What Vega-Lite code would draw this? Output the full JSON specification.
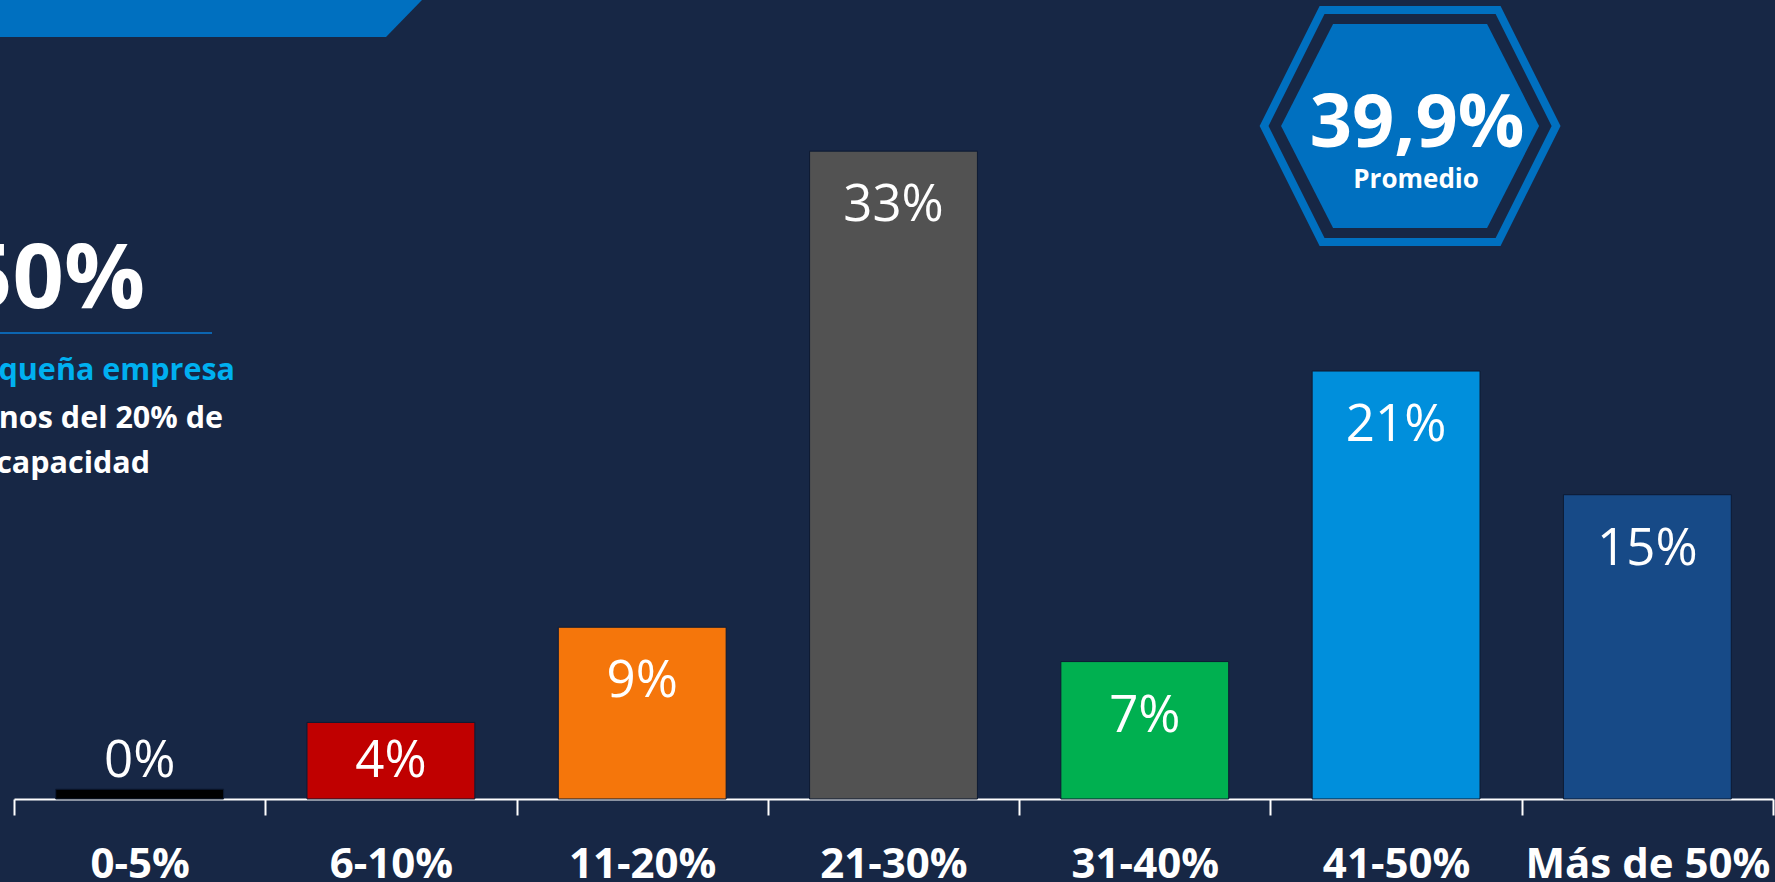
{
  "$schema": "https://vega.github.io/schema/vega-lite/v6.json",
  "width": 1759,
  "height": 799,
  "autosize": {"type": "none"},
  "padding": {"left": 14, "top": 0, "right": 2, "bottom": 83},
  "background": "#172745",
  "config": {"view": {"stroke": null}, "font": "Open Sans"},
  "datasets": {
    "bars": [
      {"cat": "0-5%", "value": 0.5, "label": "0%"},
      {"cat": "6-10%", "value": 3.9, "label": "4%"},
      {"cat": "11-20%", "value": 8.75, "label": "9%"},
      {"cat": "21-30%", "value": 33.0, "label": "33%"},
      {"cat": "31-40%", "value": 7.0, "label": "7%"},
      {"cat": "41-50%", "value": 21.8, "label": "21%"},
      {"cat": "Más de 50%", "value": 15.5, "label": "15%"}
    ],
    "avg": [{"cat": "41-50%", "label": "39,9%", "sub": "Promedio"}],
    "note": [
      {"big": "50%", "l1": "queña empresa", "l2": "nos del 20% de", "l3": "capacidad"}
    ]
  },
  "layer": [
    {
      "data": {"values": [{"k": 1}]},
      "mark": {"type": "point", "shape": "M0,0L422,0L386,37L0,37Z", "size": 4, "filled": true, "color": "#0070C0", "opacity": 1, "strokeWidth": 0},
      "encoding": {"x": {"value": -14}, "y": {"value": 0}}
    },
    {
      "data": {"name": "bars"},
      "mark": {"type": "bar", "width": {"band": 0.668}, "stroke": "#0d1a33", "strokeWidth": 1},
      "encoding": {
        "x": {
          "field": "cat", "type": "nominal", "sort": null,
          "scale": {"domain": ["0-5%", "6-10%", "11-20%", "21-30%", "31-40%", "41-50%", "Más de 50%"], "paddingInner": 0, "paddingOuter": 0},
          "axis": {
            "title": null, "domainColor": "white", "domainWidth": 2,
            "tickColor": "white", "tickWidth": 2, "tickSize": 16, "tickBand": "extent",
            "labelColor": "white", "labelFont": "Open Sans", "labelFontSize": 42, "labelFontWeight": "bold",
            "labelPadding": 62, "labelBaseline": "alphabetic", "labelAngle": 0, "labelLimit": 0, "grid": false
          }
        },
        "y": {"field": "value", "type": "quantitative", "scale": {"domain": [0, 40.7], "nice": false}, "axis": null},
        "color": {
          "field": "cat", "type": "nominal", "legend": null,
          "scale": {
            "domain": ["0-5%", "6-10%", "11-20%", "21-30%", "31-40%", "41-50%", "Más de 50%"],
            "range": ["#000000", "#C00000", "#F5760B", "#525252", "#00B050", "#008FDC", "#174A87"]
          }
        }
      }
    },
    {
      "data": {"name": "bars"},
      "transform": [{"filter": "datum.value >= 5"}],
      "mark": {"type": "text", "baseline": "alphabetic", "dy": 70, "fontSize": 51, "color": "white", "font": "Open Sans"},
      "encoding": {
        "x": {"field": "cat", "type": "nominal", "sort": null},
        "y": {"field": "value", "type": "quantitative"},
        "text": {"field": "label"}
      }
    },
    {
      "data": {"name": "bars"},
      "transform": [{"filter": "datum.value < 5"}],
      "mark": {"type": "text", "baseline": "alphabetic", "fontSize": 51, "color": "white", "font": "Open Sans"},
      "encoding": {
        "x": {"field": "cat", "type": "nominal", "sort": null},
        "y": {"datum": 1.12, "type": "quantitative"},
        "text": {"field": "label"}
      }
    },
    {
      "data": {"name": "avg"},
      "mark": {"type": "point", "shape": "M-146,0L-88,-116L88,-116L146,0L88,116L-88,116Z", "size": 4, "filled": false, "stroke": "#0070C0", "strokeWidth": 8, "opacity": 1, "strokeJoin": "miter", "xOffset": 14},
      "encoding": {"x": {"field": "cat", "type": "nominal"}, "y": {"value": 126}}
    },
    {
      "data": {"name": "avg"},
      "mark": {"type": "point", "shape": "M-129,0L-77,-102L77,-102L129,0L77,102L-77,102Z", "size": 4, "filled": true, "fill": "#0070C0", "strokeWidth": 0, "opacity": 1, "xOffset": 14},
      "encoding": {"x": {"field": "cat", "type": "nominal"}, "y": {"value": 126}}
    },
    {
      "data": {"name": "avg"},
      "mark": {"type": "text", "baseline": "alphabetic", "fontSize": 74, "fontWeight": "bold", "color": "white", "dx": 21, "font": "Open Sans"},
      "encoding": {"x": {"field": "cat", "type": "nominal"}, "y": {"value": 147}, "text": {"field": "label"}}
    },
    {
      "data": {"name": "avg"},
      "mark": {"type": "text", "baseline": "alphabetic", "fontSize": 26, "fontWeight": "bold", "color": "white", "dx": 20, "font": "Open Sans"},
      "encoding": {"x": {"field": "cat", "type": "nominal"}, "y": {"value": 188}, "text": {"field": "sub"}}
    },
    {
      "data": {"name": "note"},
      "mark": {"type": "text", "align": "right", "baseline": "alphabetic", "fontSize": 90, "fontWeight": "bold", "color": "white", "font": "Open Sans"},
      "encoding": {"x": {"value": 131}, "y": {"value": 308}, "text": {"field": "big"}}
    },
    {
      "data": {"name": "note"},
      "mark": {"type": "rule", "color": "#0A7BD4", "strokeWidth": 1.5},
      "encoding": {"x": {"value": -14}, "x2": {"value": 198}, "y": {"value": 333}}
    },
    {
      "data": {"name": "note"},
      "mark": {"type": "text", "align": "right", "baseline": "alphabetic", "fontSize": 30.5, "fontWeight": "bold", "color": "#00B0F0", "font": "Open Sans"},
      "encoding": {"x": {"value": 221}, "y": {"value": 380}, "text": {"field": "l1"}}
    },
    {
      "data": {"name": "note"},
      "mark": {"type": "text", "align": "right", "baseline": "alphabetic", "fontSize": 30.5, "fontWeight": "bold", "color": "white", "font": "Open Sans"},
      "encoding": {"x": {"value": 209}, "y": {"value": 428}, "text": {"field": "l2"}}
    },
    {
      "data": {"name": "note"},
      "mark": {"type": "text", "align": "right", "baseline": "alphabetic", "fontSize": 30.5, "fontWeight": "bold", "color": "white", "font": "Open Sans"},
      "encoding": {"x": {"value": 136}, "y": {"value": 473}, "text": {"field": "l3"}}
    }
  ]
}
